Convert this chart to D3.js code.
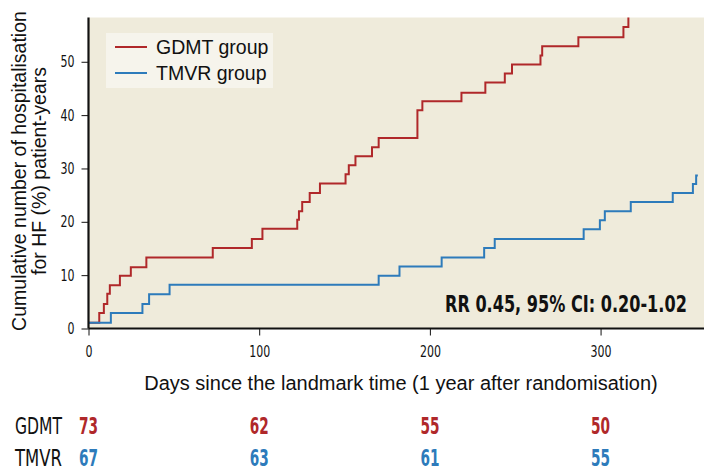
<!DOCTYPE html>
<html>
<head>
<meta charset="utf-8">
<script src="https://cdn.jsdelivr.net/npm/d3@7"></script>
<style>
  body { margin: 0; background: #fff; }
  text { font-family: "Liberation Sans", Arial, sans-serif; fill: #111; }
  .narrow { font-family: "DejaVu Sans Condensed", "DejaVu Sans", sans-serif; font-stretch: condensed; }
</style>
</head>
<body>
<div class="wrapper"></div>
<script>
// step curves (day of event, cumulative value after it)
var gdmtDays = [0, 6.3, 9.0, 11.0, 12.5, 18.4, 24.8, 33.9, 72.8, 95.7, 101.9, 122.3, 123.3, 125.2, 129.6, 135.6,
  150.6, 152.5, 156.4, 166.1, 170.0, 192.7, 195.6, 218.5, 232.5, 243.9, 248.1, 264.8, 265.8, 287.0, 313.4, 316.3];
var gdmtValues = [1.1, 2.9, 4.6, 6.5, 8.1, 9.9, 11.5, 13.3, 15.1, 16.8, 18.7, 20.4, 22.0, 23.7, 25.4, 27.2,
  28.9, 30.6, 32.3, 34.0, 35.7, 40.9, 42.6, 44.2, 46.1, 47.8, 49.5, 51.2, 52.9, 54.6, 56.5, 60];
var tmvrDays = [0, 13.1, 31.6, 35.5, 47.5, 170.0, 182.2, 206.9, 231.8, 238.0, 290.1, 299.6, 302.5, 317.7, 342.3, 354.1, 356.0, 357.0];
var tmvrValues = [1.1, 2.9, 4.6, 6.4, 8.2, 9.9, 11.6, 13.3, 15.1, 16.8, 18.6, 20.3, 22.0, 23.7, 25.4, 27.1, 28.7, 28.7];

var xTicks = [0, 100, 200, 300];
var yTicks = [0, 10, 20, 30, 40, 50];
var groups = ["GDMT group", "TMVR group"];
var riskLabels = ["GDMT", "TMVR"];
var gdmtAtRisk = [73, 62, 55, 50];
var tmvrAtRisk = [67, 63, 61, 55];
var annotation = "RR 0.45, 95% CI: 0.20-1.02";

var red = "#b0282a", blue = "#2d7bbb";
var width = 704, height = 474;
var xMax = 360.6, yMax = 58.3;

var x = d3.scaleLinear().domain([0, xMax]).range([88.5, width]);
var y = d3.scaleLinear().domain([0, yMax]).range([328.5, 17.5]);

var svg = d3.select(".wrapper").append("svg")
  .attr("width", width)
  .attr("height", height);

// squeeze a text horizontally to a given width (the original uses a condensed face)
function squeeze(sel, px, py, w) {
  sel.each(function () {
    var n = this.getComputedTextLength();
    d3.select(this).attr("transform", "translate(" + px + "," + py + ") scale(" + (w / n) + ",1)");
  });
}

// panel
svg.append("rect")
  .attr("x", x(0)).attr("y", y(yMax))
  .attr("width", x(xMax) - x(0)).attr("height", y(0) - y(yMax))
  .attr("fill", "#efebdb");

svg.append("clipPath").attr("id", "clip")
  .append("rect")
  .attr("x", x(0)).attr("y", y(yMax))
  .attr("width", x(xMax) - x(0)).attr("height", y(0) - y(yMax));

// legend box
var legend = svg.append("g").attr("transform", "translate(106,33)");
legend.append("rect").attr("width", 167).attr("height", 55).attr("fill", "#f6f4ec");
groups.forEach(function (g, i) {
  legend.append("line")
    .attr("x1", 9).attr("x2", 41)
    .attr("y1", 14 + i * 26).attr("y2", 14 + i * 26)
    .attr("stroke", i == 0 ? red : blue).attr("stroke-width", 2);
  legend.append("text")
    .attr("x", 50).attr("y", 14 + i * 26).attr("dy", "0.36em")
    .style("font-size", "19.5px")
    .text(g);
});

var line = d3.line()
  .x(d => x(d[0]))
  .y(d => y(d[1]))
  .curve(d3.curveStepAfter);

var series = [
  { color: red, pts: d3.zip(gdmtDays, gdmtValues) },
  { color: blue, pts: d3.zip(tmvrDays, tmvrValues) }
];

svg.append("g").attr("clip-path", "url(#clip)")
  .selectAll("path")
  .data(series)
  .join("path")
  .attr("d", d => line(d.pts))
  .attr("fill", "none")
  .attr("stroke", d => d.color)
  .attr("stroke-width", 2);

// axes
var xAxis = svg.append("g")
  .attr("transform", "translate(0," + y(0) + ")")
  .call(d3.axisBottom(x).tickValues(xTicks).tickSize(7).tickPadding(10));
var yAxis = svg.append("g")
  .attr("transform", "translate(" + x(0) + ",0)")
  .call(d3.axisLeft(y).tickValues(yTicks).tickSize(7).tickPadding(7));

[xAxis, yAxis].forEach(function (a) {
  a.select(".domain").attr("stroke", "#111").attr("stroke-width", 2.2);
  a.selectAll(".tick line").attr("stroke", "#111").attr("stroke-width", 1);
  a.selectAll(".tick text")
    .attr("class", "narrow")
    .style("font-size", "16px")
    .attr("textLength", d => String(d).length * 7)
    .attr("lengthAdjust", "spacingAndGlyphs")
    .attr("fill", "#111");
});
xAxis.select(".domain").attr("d", "M" + x(0) + ",0H" + width);
yAxis.select(".domain").attr("d", "M0," + y(yMax) + "V" + y(0));

// annotation
svg.append("text")
  .attr("class", "narrow")
  .style("font-size", "23px")
  .style("font-weight", "bold")
  .text(annotation)
  .call(squeeze, 445, 311.5, 242);

// axis titles
svg.append("text")
  .attr("transform", "translate(26,171) rotate(-90)")
  .attr("text-anchor", "middle")
  .style("font-size", "19.5px")
  .text("Cumulative number of hospitalisation");
svg.append("text")
  .attr("transform", "translate(46,171) rotate(-90)")
  .attr("text-anchor", "middle")
  .style("font-size", "19.5px")
  .text("for HF (%) patient-years");

svg.append("text")
  .attr("x", 401).attr("y", 390)
  .attr("text-anchor", "middle")
  .style("font-size", "20px")
  .text("Days since the landmark time (1 year after randomisation)");

// numbers at risk
var risk = [gdmtAtRisk, tmvrAtRisk];
riskLabels.forEach(function (lab, i) {
  var ry = 433.5 + i * 32;
  svg.append("text")
    .attr("class", "narrow")
    .style("font-size", "23px")
    .text(lab)
    .call(squeeze, 15, ry, 47);
  svg.selectAll(".risk" + i)
    .data(risk[i])
    .join("text")
    .attr("class", "narrow risk" + i)
    .attr("text-anchor", "middle")
    .style("font-size", "23px")
    .style("font-weight", "bold")
    .style("fill", i == 0 ? red : blue)
    .text(d => d)
    .each(function (d, j) {
      d3.select(this).call(squeeze, x(xTicks[j]), ry, 19);
    });
});
</script>
</body>
</html>
